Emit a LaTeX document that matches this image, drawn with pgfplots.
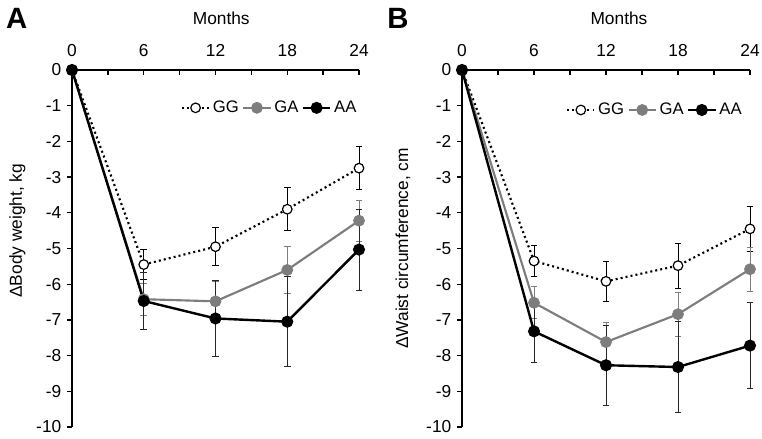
\documentclass[border=0pt]{standalone}
\usepackage{fontspec}
\setmainfont{Liberation Sans}
\usepackage{pgfplots}
\pgfplotsset{compat=1.18}
\usepackage{pgfplotstable}

\definecolor{gagray}{RGB}{125,125,125}

% columns: month, mean change, error
\pgfplotstableread{
x y e
0 0 0
6 -5.45 0.42
12 -4.95 0.53
18 -3.90 0.60
24 -2.75 0.60
}\bodyGG
\pgfplotstableread{
x y e
0 0 0
6 -6.42 0.45
12 -6.48 0.57
18 -5.60 0.65
24 -4.22 0.58
}\bodyGA
\pgfplotstableread{
x y e
0 0 0
6 -6.47 0.80
12 -6.96 1.07
18 -7.05 1.26
24 -5.03 1.13
}\bodyAA
\pgfplotstableread{
x y e
0 0 0
6 -5.35 0.43
12 -5.92 0.55
18 -5.48 0.63
24 -4.45 0.62
}\waistGG
\pgfplotstableread{
x y e
0 0 0
6 -6.52 0.45
12 -7.62 0.55
18 -6.84 0.62
24 -5.58 0.62
}\waistGA
\pgfplotstableread{
x y e
0 0 0
6 -7.32 0.88
12 -8.27 1.12
18 -8.32 1.27
24 -7.72 1.20
}\waistAA

\newcommand\labfont{\fontsize{13}{15}\selectfont}

\pgfplotsset{
  panel/.style={
    scale only axis,
    height=267.75pt,
    xmin=0, xmax=24, ymin=-10, ymax=0,
    axis x line*=top, axis y line*=left,
    axis line style={-, line width=2pt, black},
    xtick={0,6,12,18,24}, minor x tick num=1,
    ytick={-10,-9,...,0},
    tick align=outside,
    major tick length=3.5pt, minor tick length=3.5pt,
    tick style={black, line width=1pt},
    every x tick/.append style={yshift=-3.5pt},
    xticklabel style={yshift=3pt},
    yticklabel style={xshift=-1pt},
    /pgf/number format/assume math mode=true,
    ticklabel style={font=\labfont},
    xlabel={Months},
    clip=false,
    legend image code/.code={
      \draw[mark repeat=2, mark phase=2] plot coordinates {(0cm,0cm) (0.36cm,0cm) (0.72cm,0cm)};},
    legend style={draw=none, fill=none, legend columns=3,
      font=\fontsize{12.5}{14}\selectfont,
      /tikz/every even column/.append style={column sep=0.5pt}},
  },
  gg/.style={black, line width=1.6pt, dash pattern=on 1.5pt off 2.3pt,
    mark=*, mark size=3.6pt, mark options={solid, fill=white, draw=black, line width=0.9pt},
    error bars/.cd, y dir=both, y explicit,
    error bar style={solid, line width=0.6pt, black},
    error mark options={rotate=90, solid, line width=0.6pt, mark size=2.5pt, black}},
  ga/.style={gagray, line width=1.6pt,
    mark=*, mark size=3.6pt, mark options={solid, fill=gagray, draw=gagray},
    error bars/.cd, y dir=both, y explicit,
    error bar style={solid, line width=0.6pt, gagray},
    error mark options={rotate=90, solid, line width=0.6pt, mark size=2.5pt, gagray}},
  aa/.style={black, line width=1.8pt,
    mark=*, mark size=3.6pt, mark options={solid, fill=black, draw=black},
    error bars/.cd, y dir=both, y explicit,
    error bar style={solid, line width=0.6pt, black!85},
    error mark options={rotate=90, solid, line width=0.6pt, mark size=2.5pt, black!85}},
}

\begin{document}
\begin{tikzpicture}
\useasboundingbox (0,0) rectangle (571.5pt,-328.5pt);

\node[font=\bfseries\fontsize{22}{24}\selectfont] at (12.5pt,-13.5pt) {A};
\node[font=\bfseries\fontsize{22}{24}\selectfont] at (298.5pt,-13.5pt) {B};

\begin{axis}[panel, width=215.25pt,
    at={(54pt,-52.5pt)}, anchor=north west,
    every axis x label/.style={at={(axis description cs:0.52,1.146)}, anchor=center, font=\labfont},
    ylabel={ΔBody weight, kg},
    every axis y label/.style={at={(axis description cs:-0.19,0.55)}, rotate=90, anchor=center, font=\labfont},
    legend style={at={(rel axis cs:1.015,0.894)}, anchor=east},
  ]
  \addplot[gg] table[x=x, y=y, y error=e] {\bodyGG};
  \addplot[ga] table[x=x, y=y, y error=e] {\bodyGA};
  \addplot[aa] table[x=x, y=y, y error=e] {\bodyAA};
  \legend{GG, GA, AA}
\end{axis}

\begin{axis}[panel, width=216pt,
    at={(346.5pt,-52.5pt)}, anchor=north west,
    every axis x label/.style={at={(axis description cs:0.545,1.146)}, anchor=center, font=\labfont},
    ylabel={ΔWaist circumference, cm},
    every axis y label/.style={at={(axis description cs:-0.205,0.50)}, rotate=90, anchor=center, font=\labfont},
    legend style={at={(rel axis cs:0.995,0.888)}, anchor=east},
  ]
  \addplot[gg] table[x=x, y=y, y error=e] {\waistGG};
  \addplot[ga] table[x=x, y=y, y error=e] {\waistGA};
  \addplot[aa] table[x=x, y=y, y error=e] {\waistAA};
  \legend{GG, GA, AA}
\end{axis}
\end{tikzpicture}
\end{document}
